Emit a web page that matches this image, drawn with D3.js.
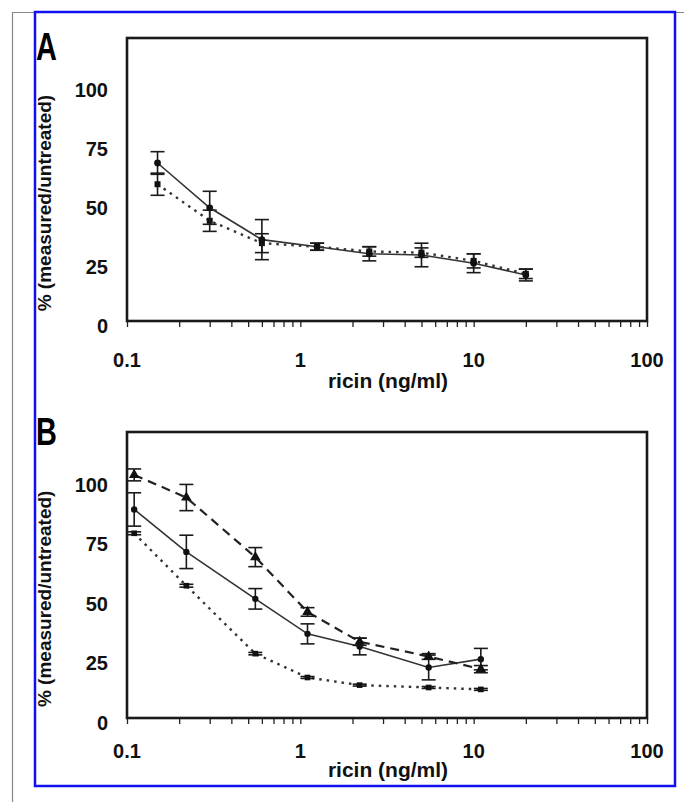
<!DOCTYPE html>
<html>
<head>
<meta charset="utf-8">
<script src="https://cdn.jsdelivr.net/npm/d3@7"></script>
<style>
  html, body { margin: 0; padding: 0; background: #fff; }
  svg { display: block; font-family: "Liberation Sans", Arial, sans-serif; }
</style>
</head>
<body>
<svg id="chart" width="684" height="802"></svg>
<script>
// ── Data ─────────────────────────────────────────────────────────────────────
// Panel A
var doseA = [0.15, 0.3, 0.6, 1.25, 2.5, 5, 10, 20];
var solidA = [67, 48, 34.5, 31.5, 28.5, 28, 24.5, 19.5];
var solidErrA = [4.8, 7, 8.5, 1.5, 3, 5, 4, 2.5];
var dottedA = [58, 42.5, 33, 31.5, 29.5, 29, 25.5, 20];
var dottedErrA = [4.7, 4.5, 4, 1.5, 2, 2, 3, 2];

// Panel B
var doseB = [0.11, 0.22, 0.55, 1.1, 2.2, 5.5, 11];
var dashedB = [102, 92.5, 67.5, 44.5, 32, 25.8, 20.5];
var dashedErrB = [2.5, 5.5, 4, 1.8, 1.5, 1.2, 1.5];
var solidB = [87.5, 69.7, 50, 35.3, 30, 21.2, 24.7];
var solidErrB = [7, 7, 4.3, 4.2, 3.5, 5.2, 4.5];
var dottedB = [77.5, 55.5, 27, 17, 13.8, 12.8, 12];
var dottedErrB = [0.6, 0.6, 0.5, 0.4, 0.4, 0.4, 0.4];

var yTicks = [0, 25, 50, 75, 100];
var xMajor = [0.1, 1, 10, 100];
var xTickLabels = ["0.1", "1", "10", "100"];
var xTitle = "ricin (ng/ml)";
var yTitle = "% (measured/untreated)";

(function () {
  "use strict";

  var svg = d3.select("#chart");

  // outer frames (gray page edge + blue figure box)
  svg.append("path")
    .attr("d", "M12.5,802V12.5H684")
    .attr("fill", "none").attr("stroke", "#888").attr("stroke-width", 1.2);
  svg.append("rect")
    .attr("x", 35).attr("y", 12).attr("width", 640).attr("height", 774)
    .attr("fill", "none").attr("stroke", "#1010f0").attr("stroke-width", 2.5);

  // minor + major ticks for the log axis
  var xAllTicks = [];
  [0.1, 1, 10].forEach(function (dec) {
    for (var k = 1; k <= 9; k++) xAllTicks.push(+(dec * k).toPrecision(3));
  });
  xAllTicks.push(100);

  function drawPanel(p) {
    var x = d3.scaleLog().domain([0.1, 100]).range([127, 647]);
    var y = d3.scaleLinear().domain([0, 120]).range([p.bottom, p.top]);
    var g = svg.append("g");

    // x ticks via d3 axis (no labels, no domain)
    var ax = g.append("g")
      .attr("transform", "translate(0," + p.bottom + ")")
      .call(d3.axisBottom(x).tickValues(xAllTicks).tickSize(6).tickFormat(""));
    ax.select(".domain").remove();
    ax.selectAll(".tick line").attr("stroke", "#222").attr("stroke-width", 1.3);

    // plot frame
    g.append("rect")
      .attr("x", x(0.1)).attr("y", y(120))
      .attr("width", x(100) - x(0.1)).attr("height", y(0) - y(120))
      .attr("fill", "none").attr("stroke", "#1a1a1a").attr("stroke-width", 2.6);

    // tick labels
    g.selectAll("text.xl").data(xMajor).join("text")
      .attr("class", "xl")
      .attr("x", function (d) { return x(d); })
      .attr("y", p.xLabelY)
      .attr("text-anchor", "middle")
      .attr("font-size", 20).attr("font-weight", "bold").attr("fill", "#111")
      .text(function (d, i) { return xTickLabels[i]; });

    g.selectAll("text.yl").data(yTicks).join("text")
      .attr("class", "yl")
      .attr("x", 108)
      .attr("y", function (d) { return y(d) + 12; })
      .attr("text-anchor", "end")
      .attr("font-size", 20).attr("font-weight", "bold").attr("fill", "#111")
      .text(function (d) { return d; });

    // titles
    g.append("text")
      .attr("x", 388).attr("y", p.xTitleY)
      .attr("text-anchor", "middle")
      .attr("font-size", 21).attr("font-weight", "bold").attr("fill", "#111")
      .text(xTitle);
    g.append("text")
      .attr("transform", "translate(51," + y(50) + ") rotate(-90)")
      .attr("text-anchor", "middle")
      .attr("font-size", 19).attr("font-weight", "bold").attr("fill", "#111")
      .text(yTitle);

    // panel letter
    g.append("text")
      .attr("x", 36).attr("y", p.letterY)
      .attr("font-size", 34).attr("font-weight", "bold").attr("fill", "#000")
      .attr("transform", "translate(36," + p.letterY + ") scale(0.85,1.15) translate(-36," + (-p.letterY) + ")")
      .text(p.letter);

    // series
    p.series.forEach(function (s) {
      var pts = p.dose.map(function (d, i) { return { x: d, v: s.values[i], e: s.err[i] }; });

      g.append("path")
        .datum(pts)
        .attr("fill", "none")
        .attr("stroke", s.color)
        .attr("stroke-width", s.width)
        .attr("stroke-dasharray", s.dash)
        .attr("d", d3.line().x(function (d) { return x(d.x); }).y(function (d) { return y(d.v); }));

      var eb = g.append("g").selectAll("g").data(pts).join("g")
        .attr("stroke", "#1a1a1a").attr("stroke-width", 1.6);
      eb.append("line")
        .attr("x1", function (d) { return x(d.x); }).attr("x2", function (d) { return x(d.x); })
        .attr("y1", function (d) { return y(d.v + d.e); }).attr("y2", function (d) { return y(d.v - d.e); });
      [1, -1].forEach(function (sgn) {
        eb.append("line")
          .attr("x1", function (d) { return x(d.x) - 7; }).attr("x2", function (d) { return x(d.x) + 7; })
          .attr("y1", function (d) { return y(d.v + sgn * d.e); }).attr("y2", function (d) { return y(d.v + sgn * d.e); });
      });

      g.append("g").selectAll("path").data(pts).join("path")
        .attr("transform", function (d) { return "translate(" + x(d.x) + "," + y(d.v) + ")"; })
        .attr("d", d3.symbol().type(s.symbol).size(s.size))
        .attr("fill", "#111");
    });
  }

  drawPanel({
    letter: "A", letterY: 60, top: 38, bottom: 321,
    xLabelY: 367, xTitleY: 388,
    dose: doseA,
    series: [
      { values: dottedA, err: dottedErrA, dash: "2.5,5", width: 2.4, color: "#333", symbol: d3.symbolSquare, size: 36 },
      { values: solidA, err: solidErrA, dash: null, width: 1.6, color: "#333", symbol: d3.symbolCircle, size: 36 }
    ]
  });

  drawPanel({
    letter: "B", letterY: 445, top: 432, bottom: 718,
    xLabelY: 758, xTitleY: 777,
    dose: doseB,
    series: [
      { values: dottedB, err: dottedErrB, dash: "2.5,5", width: 2.4, color: "#333", symbol: d3.symbolSquare, size: 32 },
      { values: solidB, err: solidErrB, dash: null, width: 1.6, color: "#333", symbol: d3.symbolCircle, size: 32 },
      { values: dashedB, err: dashedErrB, dash: "9,6", width: 2.2, color: "#222", symbol: d3.symbolTriangle, size: 48 }
    ]
  });
})();
</script>
</body>
</html>
